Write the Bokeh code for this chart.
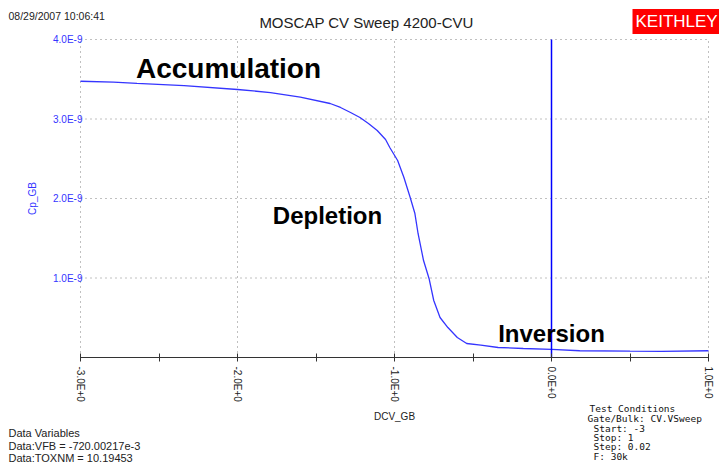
import math
from bokeh.plotting import figure
from bokeh.models import Range1d, FixedTicker, CustomJSTickFormatter, Label
from bokeh.embed import file_html
from bokeh.resources import INLINE

# ---- data ----
voltage = [-3.00, -2.79, -2.64, -2.34, -2.00, -1.79, -1.60, -1.41, -1.344, -1.28, -1.22,
           -1.166, -1.11, -1.057, -1.03, -0.98, -0.94, -0.90, -0.87, -0.85, -0.815, -0.78,
           -0.75, -0.71, -0.66, -0.60, -0.54, -0.45, -0.34, -0.18, 0.00, 0.18, 0.50,
           0.70, 1.00]
capacitance = [3.475e-9, 3.463e-9, 3.447e-9, 3.421e-9, 3.371e-9, 3.333e-9, 3.274e-9,
               3.195e-9, 3.145e-9, 3.082e-9, 3.019e-9, 2.943e-9, 2.855e-9, 2.742e-9,
               2.642e-9, 2.478e-9, 2.264e-9, 2.013e-9, 1.811e-9, 1.56e-9, 1.22e-9,
               0.994e-9, 0.717e-9, 0.503e-9, 0.377e-9, 0.252e-9, 0.176e-9, 0.155e-9,
               0.126e-9, 0.113e-9, 0.101e-9, 0.085e-9, 0.080e-9, 0.078e-9, 0.085e-9]
x_ticks = [-3, -2, -1, 0, 1]
x_minor_ticks = [-2.5, -1.5, -0.5, 0.5]
y_ticks = [1e-9, 2e-9, 3e-9, 4e-9]
vfb_marker = 0.0
title_text = "MOSCAP CV Sweep 4200-CVU"
timestamp = "08/29/2007 10:06:41"
logo_text = "KEITHLEY"
region_labels = ["Accumulation", "Depletion", "Inversion"]
data_variables = ["Data Variables", "Data:VFB = -720.00217e-3", "Data:TOXNM = 10.19453"]
test_conditions = ["Test Conditions", "Gate/Bulk: CV.VSweep", "Start: -3", "Stop: 1",
                   "Step: 0.02", "F: 30k"]

BLUE = "#3535ff"
FONT = "Liberation Sans"

W, H = 719, 464
# plotting area in canvas pixels: x -3..1 -> 80..708, y 0..4e-9 -> 357..39
X0, X1, XPX0, XPX1 = x_ticks[0], x_ticks[-1], 80.0, 708.0
Y0, Y1, YPX0, YPX1 = 0.0, y_ticks[-1], 357.0, 39.0
sx = (X1 - X0) / (XPX1 - XPX0)
sy = (Y1 - Y0) / (YPX0 - YPX1)
x_range = Range1d(X0 - XPX0 * sx, X1 + (W - XPX1) * sx)
y_range = Range1d(Y0 - (H - YPX0) * sy, Y1 + YPX1 * sy)

p = figure(width=W, height=H, x_range=x_range, y_range=y_range,
           output_backend="svg", toolbar_location=None, min_border=0)
p.outline_line_color = None
p.background_fill_color = "white"
p.border_fill_color = "white"
p.xgrid.visible = False
p.ygrid.visible = False

# dotted grid lines within the plotting area (the 0 V line is covered by the marker)
grid_x = [t for t in x_ticks if t != vfb_marker]
p.segment(x0=grid_x, y0=[Y0] * len(grid_x), x1=grid_x, y1=[Y1] * len(grid_x),
          line_color="#808080", line_dash="1 4", line_width=1)
p.segment(x0=[X0] * len(y_ticks), y0=y_ticks, x1=[X1] * len(y_ticks), y1=y_ticks,
          line_color="#808080", line_dash="1 4", line_width=1)

# x axis (fixed at y = 0)
xa = p.xaxis[0]
xa.fixed_location = Y0
xa.bounds = (X0, X1)
xa.ticker = FixedTicker(ticks=x_ticks, minor_ticks=x_minor_ticks)
xa.formatter = CustomJSTickFormatter(code="return tick.toFixed(1) + 'E+0';")
xa.axis_line_color = "#333333"
xa.major_tick_line_color = "#333333"
xa.minor_tick_line_color = "#333333"
xa.major_tick_in = 4
xa.major_tick_out = 4
xa.minor_tick_in = 4
xa.minor_tick_out = 4
xa.major_label_orientation = "vertical"
xa.major_label_text_font = FONT
xa.major_label_text_font_size = "10px"
xa.major_label_text_color = "#222222"
xa.major_label_standoff = 5
xa.axis_label = "DCV_GB"
xa.axis_label_text_font = FONT
xa.axis_label_text_font_style = "normal"
xa.axis_label_text_font_size = "10px"
xa.axis_label_text_color = "#222222"
xa.axis_label_standoff = 6

# y axis (fixed at x = -3)
ya = p.yaxis[0]
ya.fixed_location = X0
ya.bounds = (Y0, Y1)
ya.ticker = FixedTicker(ticks=y_ticks)
ya.formatter = CustomJSTickFormatter(code="return (tick*1e9).toFixed(1) + 'E-9';")
ya.axis_line_color = None
ya.major_tick_line_color = None
ya.minor_tick_line_color = None
ya.major_tick_out = 0
ya.major_tick_in = 0
ya.minor_tick_out = 0
ya.minor_tick_in = 0
ya.major_label_text_color = BLUE
ya.major_label_text_font = FONT
ya.major_label_text_font_size = "10px"
ya.major_label_standoff = -2
ya.axis_label = "Cp_GB"
ya.axis_label_text_color = BLUE
ya.axis_label_text_font = FONT
ya.axis_label_text_font_style = "normal"
ya.axis_label_text_font_size = "10px"
ya.axis_label_standoff = 12

# curve
p.line(voltage, capacitance, line_color=BLUE, line_width=1.3)

# vertical blue marker line at 0 V
p.segment(x0=[vfb_marker], y0=[Y0], x1=[vfb_marker], y1=[Y1], line_color="#0000ff",
          line_width=1.5)


def add_label(text, X, Y, size, color="#222222", font=FONT, align="left", style="normal", **kw):
    # X, Y: canvas pixels from the top-left corner
    p.add_layout(Label(x=X, y=Y, x_units="canvas", y_units="canvas", text=text,
                       text_font=font, text_font_size=size, text_color=color,
                       text_align=align, text_baseline="middle",
                       text_font_style=style, **kw))


# header texts
add_label(timestamp, 8, 15, "10.5px")
add_label(title_text, 366, 22, "15px", align="center")
add_label(logo_text, 632, 21, "17px", color="white", background_fill_color="#ff0000",
          padding=3)

# region labels
add_label(region_labels[0], 228, 68, "28px", color="black", align="center", style="bold")
add_label(region_labels[1], 327, 215, "24px", color="black", align="center", style="bold")
add_label(region_labels[2], 551, 333, "24px", color="black", align="center", style="bold")

# bottom-left data variables
for txt, Y in zip(data_variables, [432, 445, 457]):
    add_label(txt, 8, Y, "11px")

# bottom-right test conditions (monospace)
tc_x = [589, 587, 593, 593, 593, 593]
tc_y = [408, 418, 428, 437, 446, 456]
for txt, X, Y in zip(test_conditions, tc_x, tc_y):
    add_label(txt, X, Y, "9.5px", font="DejaVu Sans Mono", color="#111111")

open("out.html", "w").write(file_html(p, INLINE))
